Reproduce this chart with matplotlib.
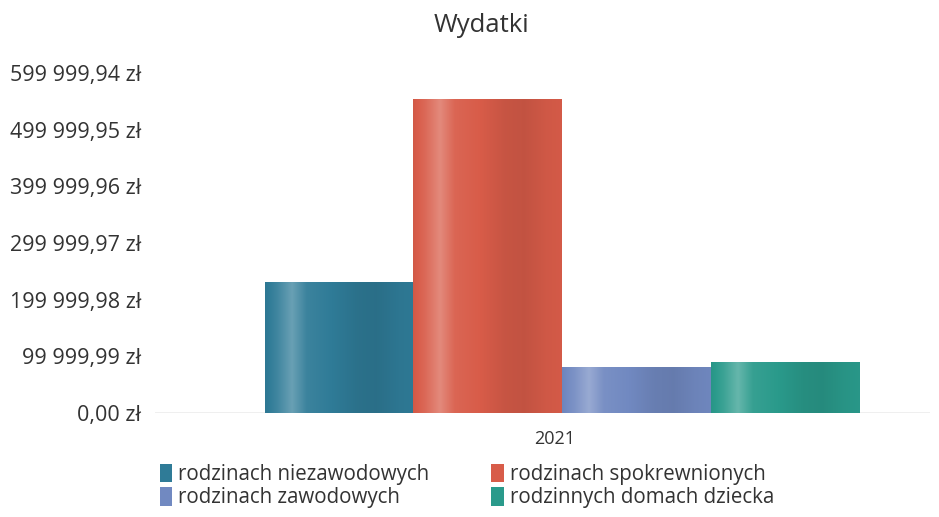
import numpy as np
import matplotlib
matplotlib.use("Agg")
import matplotlib.pyplot as plt
from matplotlib.colors import to_rgb
from matplotlib.patches import Patch

plt.rcParams['font.family'] = ['Open Sans', 'DejaVu Sans']

title = "Wydatki"
categories = ["2021"]
series_names = ["rodzinach niezawodowych", "rodzinach spokrewnionych",
                "rodzinach zawodowych", "rodzinnych domach dziecka"]
values = [231000, 554000, 81000, 90000]
colors = ["#2f7b97", "#d85c49", "#7189c1", "#2a9a8b"]
legend_order = [0, 2, 1, 3]
tick_step = 99999.99
n_ticks = 7

def fmt(v):
    s = f"{v:,.2f}"
    ip, dp = s.split(".")
    return ip.replace(",", " ") + "," + dp + " zł"

fig = plt.figure(figsize=(9.39, 5.17), dpi=100)
ax = fig.add_axes([155/939, 104/517, 775/939, 340/517])

n = len(series_names)
w = 1.0 / n
x0 = np.arange(len(categories))
# shading profile across bar width (light stripe, darker band)
px = np.linspace(0, 1, 200)
prof = np.interp(px, [0, 0.08, 0.18, 0.28, 0.45, 0.62, 0.75, 0.9, 1.0],
                 [-0.03, 0.08, 0.28, 0.06, 0.0, -0.08, -0.1, -0.04, -0.02])

for i, (name, val, col) in enumerate(zip(series_names, values, colors)):
    xs = x0 - 0.5 + w * i
    bars = ax.bar(xs, [val], width=w, align='edge', color=col, edgecolor='none', zorder=2)
    base = np.array(to_rgb(col))
    img = np.zeros((2, len(px), 3))
    for k, p in enumerate(prof):
        if p >= 0:
            c = base + (1 - base) * p
        else:
            c = base * (1 + p)
        img[:, k, :] = np.clip(c, 0, 1)
    for b in bars:
        x, y = b.get_x(), b.get_y()
        im = ax.imshow(img, extent=[x, x + b.get_width(), y, y + b.get_height()],
                       aspect='auto', zorder=3, interpolation='bilinear')
        im.set_clip_path(b)

ax.set_xlim(-(562 - 155) / 595, (930 - 562) / 595)
ax.set_ylim(0, tick_step * (n_ticks - 1))
ticks = [tick_step * k for k in range(n_ticks)]
ax.set_yticks(ticks)
ax.set_yticklabels([fmt(t) for t in ticks])
ax.set_xticks(x0 - 0.5 + w * 1.95)
ax.set_xticklabels(categories)
for s in ax.spines.values():
    s.set_visible(False)
ax.axhline(0, color="#ececec", lw=1.2, zorder=1)
ax.tick_params(axis='y', length=0, labelsize=15.5, colors="#333333", pad=10)
ax.tick_params(axis='x', length=0, labelsize=13, colors="#333333", pad=12)

fig.text(482/939, 1 - 25/517, title, ha='center', va='center', fontsize=18.5, color="#333333")

handles = [Patch(facecolor=colors[i], edgecolor='none') for i in legend_order]
labels = [series_names[i] for i in legend_order]
fig.legend(handles, labels, ncol=2, loc='center left', bbox_to_anchor=(160/939, 1 - 486/517),
           frameon=False, fontsize=14.8, handlelength=0.6, handleheight=1.0, handletextpad=0.3,
           columnspacing=3.0, labelspacing=0.12, labelcolor="#333333", borderaxespad=0, borderpad=0)

fig.savefig("out.png", dpi=100)
